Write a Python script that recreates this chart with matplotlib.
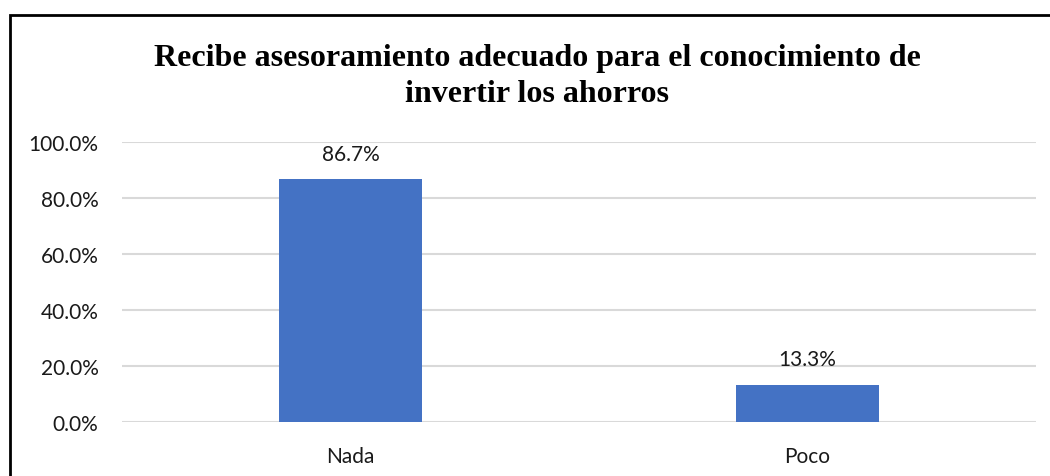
import matplotlib
matplotlib.use("Agg")
import matplotlib.pyplot as plt
from matplotlib.patches import Rectangle

categories = ["Nada", "Poco"]
values = [86.7, 13.3]
yticks = [0, 20, 40, 60, 80, 100]
title_lines = ["Recibe asesoramiento adecuado para el conocimiento de",
               "invertir los ahorros"]

bar_color = "#4472C4"
grid_color = "#D9D9D9"
text_color = "#1A1A1A"
label_font = "Lato"
label_size = 15

fig = plt.figure(figsize=(10.5, 4.77), dpi=100)
W, H = 1050, 477

# outer chart frame (runs off the right and bottom edges)
fig.patches.append(Rectangle((10 / W, -0.05), 1.1, (H - 16) / H + 0.05,
                             transform=fig.transFigure, fill=False,
                             edgecolor="black", linewidth=2.0))

ax = fig.add_axes([122 / W, (H - 423) / H, (1036 - 122) / W, (423 - 143) / H])
x = list(range(len(categories)))
bars = ax.bar(x, values, width=0.315, color=bar_color, zorder=3)
ax.set_xlim(-0.5, len(categories) - 0.5)
ax.set_ylim(0, 100)
ax.set_yticks(yticks)
ax.set_yticklabels([f"{v:.1f}%" for v in yticks], fontsize=label_size,
                   family=label_font, color=text_color)
ax.set_xticks(x)
ax.set_xticklabels(categories, fontsize=label_size, family=label_font,
                   color=text_color)
ax.tick_params(axis="both", length=0)
ax.tick_params(axis="y", pad=17)
ax.tick_params(axis="x", pad=17)
ax.yaxis.grid(True, color=grid_color, linewidth=1.5, zorder=0)
for s in ax.spines.values():
    s.set_visible(False)

for rect, v in zip(bars, values):
    ax.annotate(f"{v:.1f}%", (rect.get_x() + rect.get_width() / 2, v),
                xytext=(0, 14), textcoords="offset points", ha="center",
                va="baseline", fontsize=label_size, family=label_font,
                color=text_color)

for y_px, line in zip([66, 102], title_lines):
    fig.text(537 / W, 1 - y_px / H, line, ha="center", va="baseline",
             fontsize=23, fontweight="bold", family="Liberation Serif",
             color="black")

fig.savefig("out.png", dpi=100)
